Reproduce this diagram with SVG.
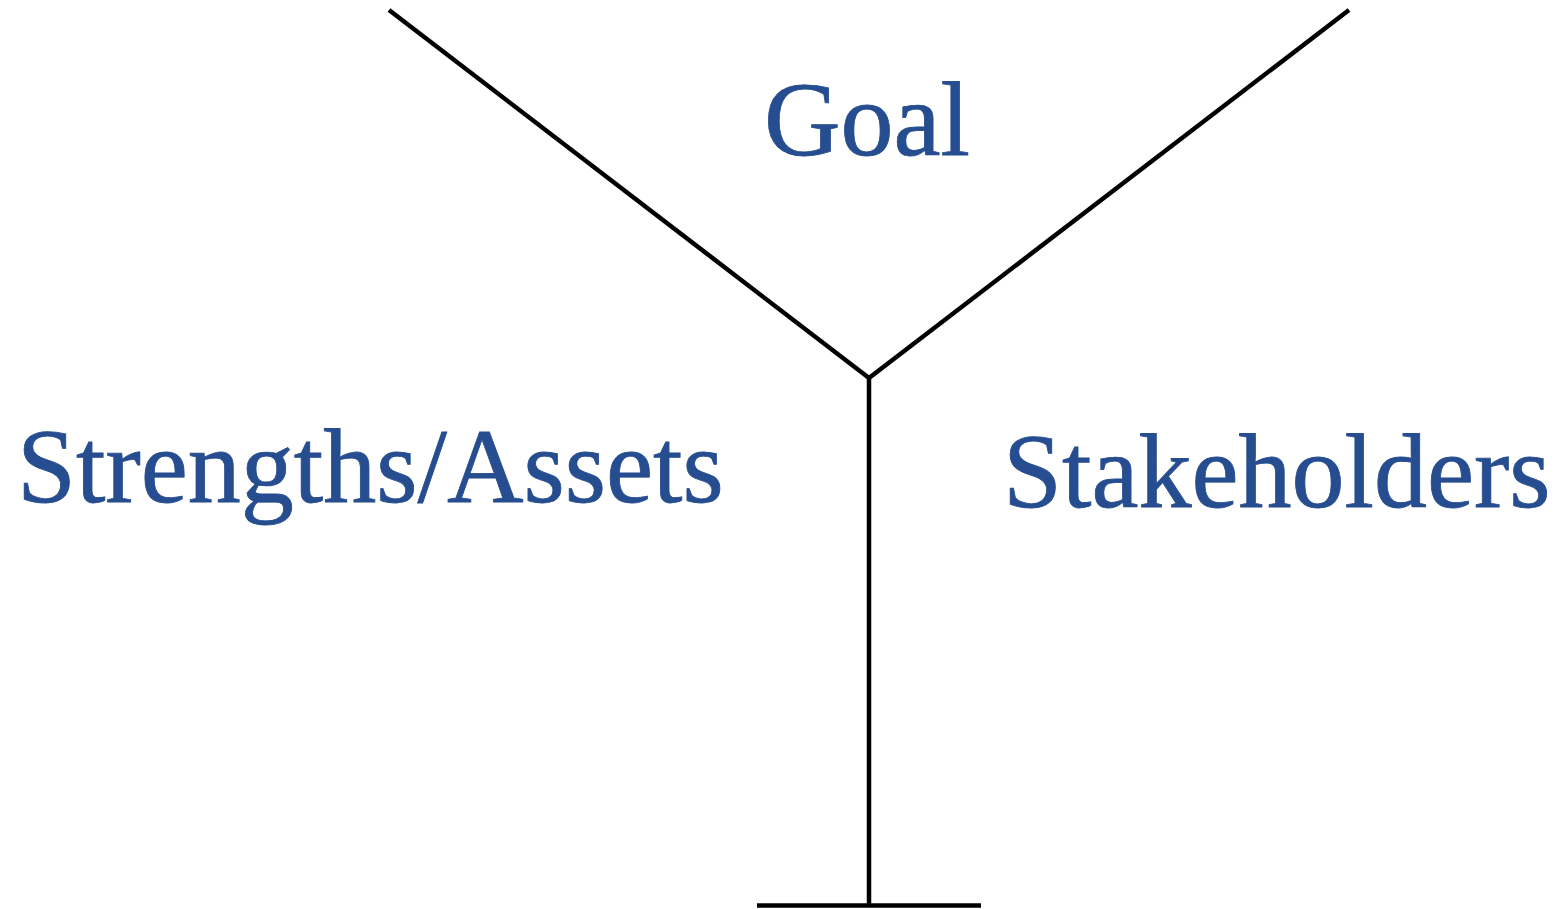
<svg xmlns="http://www.w3.org/2000/svg" width="1556" height="909" viewBox="0 0 1556 909">
  <style>
    .lbl { font-family: "Liberation Serif", "Times New Roman", serif; font-size: 106px; fill: #264d8f; stroke: #264d8f; stroke-width: 0.8; }
    .ln { stroke: #000; stroke-width: 4.5; fill: none; }
  </style>
  <rect width="1556" height="909" fill="#fff"/>
  <g id="connectors">
    <line class="ln" x1="389" y1="10" x2="869" y2="378"/>
    <line class="ln" x1="1349" y1="10" x2="869" y2="378"/>
    <line class="ln" x1="869" y1="378" x2="869" y2="906" stroke-width="5"/>
    <line class="ln" x1="757" y1="905.5" x2="981" y2="905.5" stroke-width="5"/>
  </g>
  <g id="goal">
    <text class="lbl" x="764" y="155">Goal</text>
  </g>
  <g id="strengths">
    <text class="lbl" x="17" y="502">Strengths/Assets</text>
  </g>
  <g id="stakeholders">
    <text class="lbl" x="1003" y="507">Stakeholders</text>
  </g>
</svg>
